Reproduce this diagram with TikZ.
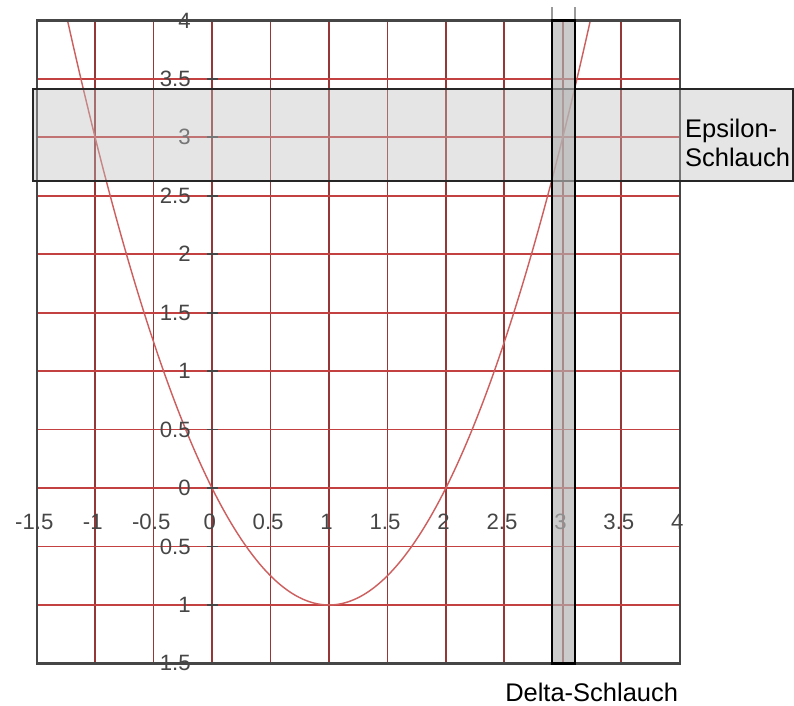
\documentclass[tikz,border=0pt]{standalone}
\usepackage{fontspec}
\setmainfont{Liberation Sans}
\definecolor{gridvcol}{RGB}{150,55,55}
\definecolor{gridhcol}{RGB}{195,65,65}
\definecolor{framecol}{RGB}{70,70,70}
\definecolor{curvecol}{RGB}{205,95,95}
\definecolor{labcol}{RGB}{70,70,70}
\begin{document}
\begin{tikzpicture}[x=1cm,y=1cm,
  gridv/.style={draw=gridvcol, line width=0.4pt},
  gridh/.style={draw=gridhcol, line width=0.4pt},
  framebox/.style={draw=framecol, line width=0.55pt},
  tickmark/.style={draw=framecol, line width=0.4pt},
  curveline/.style={draw=curvecol, line width=0.35pt},
  ylab/.style={anchor=east, text=labcol, font=\fontsize{5.4}{6}\selectfont, inner sep=0pt},
  xlab/.style={anchor=center, text=labcol, font=\fontsize{5.4}{6}\selectfont, inner sep=0pt},
  epsband/.style={fill=black!25, fill opacity=0.4, draw=black!85, draw opacity=1, line width=0.5pt},
  delband/.style={fill=black!30, fill opacity=0.67, draw=black, draw opacity=1, line width=0.55pt},
  caption/.style={text=black, font=\fontsize{6.2}{7.1}\selectfont, inner sep=0pt, align=left}
]
\useasboundingbox (-1.8135,-1.8565) rectangle (4.978,4.1745);
% grid
\foreach \x in {-1,-0.5,...,3.6}
  \draw[gridv] (\x,-1.5) -- (\x,4);
\foreach \y in {-1,-0.5,...,3.6}
  \draw[gridh] (-1.5,\y) -- (4,\y);
% curve
\draw[curveline] plot[domain=-1.236:3.236, samples=200, smooth] (\x,{\x*\x-2*\x});
% frame
\draw[framebox] (-1.5,-1.5) rectangle (4,4);
% ticks and y labels
\foreach \y/\t [count=\i] in {4/4,3.5/3.5,3/3,2.5/2.5,2/2,1.5/1.5,1/1,0.5/0.5,0/0,-0.5/0.5,-1/1,-1.5/1.5}{
  \draw[tickmark] (-0.04,\y) -- (0.05,\y);
  \node[ylab] (yl\i) at (-0.175,\y) {\t};
}
% x labels
\foreach \x/\t [count=\i] in {-1.5/-1.5,-1/-1,-0.5/-0.5,0/0,0.5/0.5,1/1,1.5/1.5,2/2,2.5/2.5,3/3,3.5/3.5,4/4}{
  \node[xlab] (xl\i) at (\x-0.02,-0.29) {\t};
}
% epsilon band
\draw[epsband] (-1.53,2.625) rectangle (4.97,3.412);
% delta band
\draw[black!40, line width=0.4pt] (2.907,4) -- (2.907,4.115);
\draw[black!40, line width=0.4pt] (3.104,4) -- (3.104,4.115);
\draw[delband] (2.907,-1.5) rectangle (3.104,4);
% captions
\node[caption, anchor=west] (eps) at (4.04,2.955) {Epsilon-\\Schlauch};
\node[caption] (del) at (3.247,-1.745) {Delta-Schlauch};
\end{tikzpicture}
\end{document}
